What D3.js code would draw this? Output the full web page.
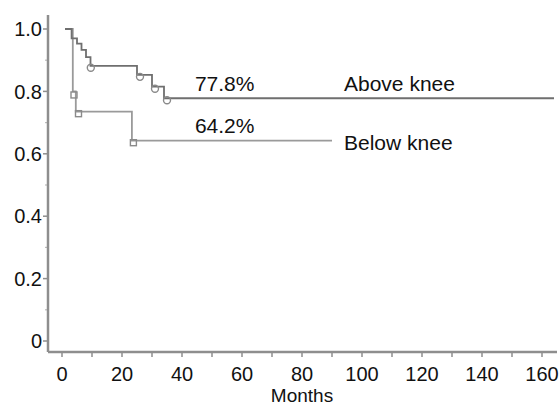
<!DOCTYPE html>
<html><head><meta charset="utf-8">
<script src="https://cdn.jsdelivr.net/npm/d3@7"></script>
<style>body{margin:0;background:#fff}svg{display:block}text{font-family:"Liberation Sans",Arial,sans-serif;fill:#111}</style>
</head><body><svg id="c" width="560" height="407"></svg>
<script>
// Data
const aboveMonths = [1, 3.2, 5, 6.5, 8, 9.5, 25, 30, 34, 164];
const aboveSurv   = [1.0, 0.97, 0.953, 0.933, 0.91, 0.882, 0.853, 0.815, 0.778, 0.778];
const aboveCensMonths = [9.6, 26, 31, 35];
const aboveCensSurv   = [0.882, 0.853, 0.815, 0.778];
const belowMonths = [1, 3.6, 4.6, 23.3, 90];
const belowSurv   = [1.0, 0.80, 0.735, 0.642, 0.642];
const belowCensMonths = [4.0, 5.5, 23.8];
const belowCensSurv   = [0.795, 0.735, 0.642];
const xTickValues = [0,20,40,60,80,100,120,140,160];
const xMinorValues = [10,30,50,70,90,110,130,150];
const yTickValues = [0,0.2,0.4,0.6,0.8,1.0];
const yTickLabels = ["0","0.2","0.4","0.6","0.8","1.0"];
const yMinorValues = [0.1,0.3,0.5,0.7,0.9];
const annotations = [
  {t:44.3, s:0.80, text:"77.8%"},
  {t:94,   s:0.80, text:"Above knee"},
  {t:44.3, s:0.667, text:"64.2%"},
  {t:94,   s:0.613, text:"Below knee"}
];
const xLabel = "Months";

const svg = d3.select("#c");
const x = d3.scaleLinear().domain([0,160]).range([62,542]);
const y = d3.scaleLinear().domain([0,1]).range([341,29]);
const axisColor = "#8e8e8e";

// axis lines
const x0 = x.invert(48), x1 = x.invert(557);
const yb = y.invert(352), yt = y.invert(15);
svg.append("line").attr("x1",x(x0)).attr("x2",x(x1)).attr("y1",y(yb)).attr("y2",y(yb))
  .attr("stroke",axisColor).attr("stroke-width",2.5);
svg.append("line").attr("x1",x(x0)).attr("x2",x(x0)).attr("y1",y(yb)).attr("y2",y(yt))
  .attr("stroke",axisColor).attr("stroke-width",2.5);

// x ticks
const xAxisY = y(yb);
svg.selectAll(".xt").data(xTickValues.concat(xMinorValues)).enter().append("line")
  .attr("x1",d=>x(d)).attr("x2",d=>x(d)).attr("y1",xAxisY).attr("y2",xAxisY+5)
  .attr("stroke",axisColor).attr("stroke-width",1.5);
svg.selectAll(".xl").data(xTickValues).enter().append("text")
  .attr("x",d=>x(d)).attr("y",xAxisY+29).attr("text-anchor","middle")
  .attr("font-size",20).text(d=>d);
svg.append("text").attr("x",x(80)).attr("y",402).attr("text-anchor","middle")
  .attr("font-size",19).text(xLabel);

// y ticks
const yAxisX = x(x0);
svg.selectAll(".yt").data(yTickValues).enter().append("line")
  .attr("x1",yAxisX-5).attr("x2",yAxisX).attr("y1",d=>y(d)).attr("y2",d=>y(d))
  .attr("stroke",axisColor).attr("stroke-width",1.5);
svg.selectAll(".ym").data(yMinorValues).enter().append("line")
  .attr("x1",yAxisX-3).attr("x2",yAxisX).attr("y1",d=>y(d)).attr("y2",d=>y(d))
  .attr("stroke",axisColor).attr("stroke-width",1.2).attr("opacity",0.6);
svg.selectAll(".yl").data(yTickValues).enter().append("text")
  .attr("x",yAxisX-6).attr("y",d=>y(d)).attr("dy","0.36em").attr("text-anchor","end")
  .attr("font-size",20).text((d,i)=>yTickLabels[i]);

// curves
const line = d3.line().curve(d3.curveStepAfter).x(d=>x(d[0])).y(d=>y(d[1]));
svg.append("path").datum(belowMonths.map((t,i)=>[t,belowSurv[i]]))
  .attr("d",line).attr("fill","none").attr("stroke","#9a9a9a").attr("stroke-width",1.8);
svg.append("path").datum(aboveMonths.map((t,i)=>[t,aboveSurv[i]]))
  .attr("d",line).attr("fill","none").attr("stroke","#6f6f6f").attr("stroke-width",1.8);

// censor marks
svg.selectAll(".ac").data(aboveCensMonths.map((t,i)=>[t,aboveCensSurv[i]])).enter().append("circle")
  .attr("cx",d=>x(d[0])).attr("cy",d=>y(d[1])+2).attr("r",3.5)
  .attr("fill","none").attr("stroke","#8a8a8a").attr("stroke-width",1.4);
svg.selectAll(".bc").data(belowCensMonths.map((t,i)=>[t,belowCensSurv[i]])).enter().append("rect")
  .attr("x",d=>x(d[0])-3).attr("y",d=>y(d[1])-1).attr("width",6).attr("height",6)
  .attr("fill","none").attr("stroke","#8a8a8a").attr("stroke-width",1.4);

// annotations
svg.selectAll(".an").data(annotations).enter().append("text")
  .attr("x",d=>x(d.t)).attr("y",d=>y(d.s)).attr("font-size",21).text(d=>d.text);
</script></body></html>
